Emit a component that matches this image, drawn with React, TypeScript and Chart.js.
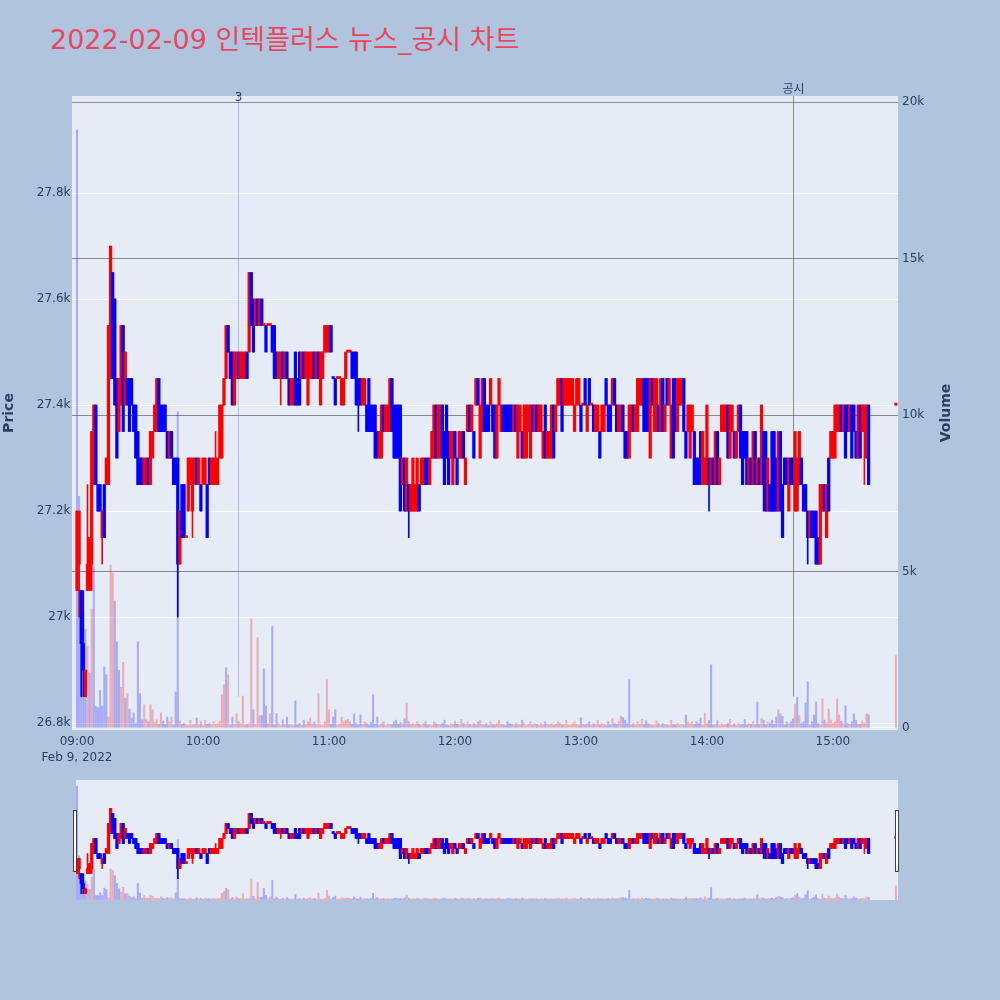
import { useEffect, useRef } from "react";
import Chart from "chart.js/auto";

// minutes after 09:00 (15:20-15:30 closing auction has no trades, last print at 15:30)
const tradingMinutes = [...Array(378).keys(), 390];

const opens = [
  27050, 27100, 27050, 26950, 26850, 27050, 27050, 27100, 27250, 27400,
  27250, 27250, 27150, 27250, 27250, 27250, 27450, 27650, 27600, 27450,
  27350, 27400, 27550, 27400, 27450, 27450, 27450, 27400, 27400, 27350,
  27300, 27300, 27250, 27250, 27300, 27250, 27300, 27350, 27350, 27450,
  27400, 27400, 27400, 27350, 27300, 27350, 27300, 27300, 27300, 27100,
  27250, 27250, 27150, 27200, 27250, 27200, 27250, 27300, 27250, 27250,
  27250, 27250, 27250, 27300, 27250, 27250, 27250, 27250, 27300, 27300,
  27400, 27450, 27550, 27500, 27500, 27400, 27450, 27500, 27450, 27450,
  27450, 27500, 27500, 27650, 27600, 27550, 27600, 27550, 27600, 27550,
  27550, 27550, 27550, 27550, 27550, 27500, 27450, 27450, 27500, 27450,
  27500, 27450, 27400, 27400, 27500, 27450, 27500, 27450, 27500, 27450,
  27400, 27450, 27450, 27500, 27450, 27500, 27400, 27450, 27500, 27500,
  27500, 27550, 27450, 27450, 27450, 27450, 27400, 27400, 27450, 27500,
  27500, 27500, 27500, 27500, 27450, 27450, 27400, 27400, 27400, 27450,
  27400, 27400, 27400, 27350, 27300, 27300, 27400, 27350, 27350, 27350,
  27450, 27400, 27400, 27400, 27400, 27250, 27300, 27200, 27250, 27200,
  27200, 27200, 27200, 27250, 27250, 27250, 27300, 27300, 27250, 27300,
  27300, 27400, 27300, 27300, 27400, 27350, 27400, 27350, 27300, 27250,
  27350, 27300, 27300, 27300, 27350, 27250, 27350, 27400, 27350, 27350,
  27400, 27450, 27300, 27350, 27450, 27400, 27400, 27400, 27400, 27400,
  27300, 27400, 27350, 27400, 27400, 27400, 27400, 27400, 27350, 27400,
  27300, 27350, 27350, 27300, 27300, 27350, 27300, 27400, 27350, 27400,
  27350, 27350, 27300, 27400, 27300, 27300, 27300, 27400, 27350, 27400,
  27400, 27450, 27400, 27400, 27400, 27400, 27400, 27350, 27400, 27400,
  27400, 27400, 27450, 27350, 27450, 27400, 27400, 27350, 27350, 27350,
  27350, 27350, 27450, 27400, 27400, 27400, 27450, 27400, 27350, 27350,
  27400, 27350, 27350, 27300, 27350, 27400, 27350, 27350, 27400, 27400,
  27450, 27450, 27450, 27300, 27450, 27350, 27350, 27400, 27350, 27450,
  27350, 27450, 27400, 27300, 27450, 27450, 27350, 27400, 27400, 27450,
  27350, 27350, 27300, 27350, 27350, 27300, 27300, 27350, 27250, 27250,
  27250, 27300, 27250, 27300, 27250, 27350, 27250, 27350, 27350, 27350,
  27400, 27300, 27350, 27350, 27300, 27350, 27400, 27350, 27350, 27350,
  27250, 27300, 27250, 27350, 27250, 27300, 27250, 27350, 27350, 27200,
  27250, 27350, 27350, 27300, 27200, 27350, 27250, 27300, 27300, 27200,
  27300, 27300, 27200, 27200, 27250, 27300, 27250, 27250, 27200, 27150,
  27200, 27200, 27200, 27150, 27100, 27200, 27250, 27150, 27300, 27300,
  27300, 27300, 27350, 27350, 27400, 27350, 27400, 27400, 27350, 27400,
  27400, 27350, 27300, 27400, 27350, 27350, 27300, 27400,
  27400,
];

const closes = [
  27200, 27200, 26950, 26900, 26900, 27100, 27150, 27350, 27400, 27250,
  27200, 27200, 27200, 27150, 27300, 27550, 27700, 27450, 27400, 27300,
  27450, 27550, 27350, 27500, 27400, 27350, 27400, 27350, 27300, 27250,
  27250, 27250, 27300, 27300, 27250, 27350, 27350, 27400, 27450, 27350,
  27350, 27350, 27350, 27300, 27350, 27300, 27250, 27250, 27100, 27200,
  27150, 27150, 27150, 27300, 27300, 27300, 27300, 27250, 27300, 27200,
  27300, 27300, 27150, 27250, 27300, 27300, 27300, 27300, 27400, 27400,
  27450, 27550, 27500, 27450, 27400, 27500, 27500, 27450, 27500, 27500,
  27500, 27450, 27650, 27550, 27500, 27600, 27550, 27600, 27550, 27550,
  27500, 27550, 27550, 27500, 27450, 27450, 27500, 27500, 27450, 27500,
  27450, 27400, 27450, 27450, 27400, 27400, 27400, 27500, 27450, 27500,
  27500, 27500, 27500, 27450, 27500, 27450, 27500, 27500, 27550, 27550,
  27550, 27500, 27450, 27400, 27450, 27450, 27450, 27450, 27500, 27500,
  27500, 27450, 27450, 27400, 27400, 27400, 27450, 27450, 27350, 27350,
  27350, 27350, 27300, 27300, 27350, 27400, 27350, 27400, 27400, 27450,
  27350, 27300, 27300, 27300, 27200, 27300, 27200, 27300, 27200, 27250,
  27300, 27250, 27300, 27200, 27300, 27300, 27250, 27250, 27300, 27350,
  27400, 27300, 27400, 27400, 27300, 27250, 27300, 27250, 27350, 27350,
  27300, 27250, 27350, 27350, 27300, 27300, 27400, 27350, 27400, 27300,
  27450, 27400, 27400, 27450, 27350, 27350, 27350, 27450, 27350, 27300,
  27400, 27450, 27400, 27350, 27350, 27350, 27350, 27350, 27400, 27350,
  27400, 27400, 27300, 27400, 27400, 27400, 27400, 27350, 27400, 27350,
  27400, 27400, 27350, 27300, 27350, 27350, 27400, 27300, 27400, 27450,
  27450, 27350, 27450, 27450, 27450, 27450, 27450, 27400, 27450, 27450,
  27350, 27400, 27400, 27400, 27400, 27400, 27350, 27400, 27400, 27300,
  27400, 27400, 27400, 27350, 27350, 27450, 27400, 27350, 27400, 27400,
  27350, 27300, 27300, 27400, 27400, 27350, 27400, 27450, 27450, 27450,
  27350, 27350, 27350, 27450, 27400, 27450, 27450, 27350, 27450, 27350,
  27400, 27400, 27450, 27400, 27300, 27350, 27450, 27450, 27450, 27350,
  27300, 27400, 27400, 27400, 27250, 27250, 27250, 27250, 27350, 27300,
  27400, 27250, 27300, 27250, 27350, 27250, 27300, 27400, 27400, 27400,
  27300, 27400, 27400, 27300, 27350, 27400, 27300, 27250, 27300, 27250,
  27300, 27250, 27350, 27250, 27300, 27250, 27400, 27250, 27200, 27300,
  27200, 27200, 27200, 27200, 27350, 27200, 27150, 27250, 27250, 27300,
  27250, 27250, 27350, 27300, 27350, 27250, 27200, 27200, 27150, 27200,
  27150, 27150, 27100, 27100, 27250, 27250, 27200, 27250, 27200, 27350,
  27350, 27400, 27400, 27400, 27350, 27400, 27300, 27350, 27400, 27300,
  27350, 27300, 27400, 27300, 27400, 27400, 27400, 27250,
  27400,
];

// [minute, high, low] where the wick reaches past the body
const wicks = [
  [1, 27200, 27000], [2, 27050, 26850], [3, 27050, 26850], [5, 27250, 27050],
  [7, 27350, 27050], [12, 27200, 27100], [48, 27300, 27000], [55, 27300, 27150],
  [66, 27350, 27250], [97, 27500, 27400], [134, 27450, 27350], [158, 27250, 27150],
  [301, 27300, 27200], [327, 27350, 27200], [348, 27200, 27100], [375, 27400, 27250],
];

const volumes = [
  19100, 7400, 2650, 3700, 3150, 2600, 1750, 3800, 5150, 700,
  650, 1200, 700, 1950, 1700, 350, 5200, 4950, 4050, 2750,
  1850, 1300, 2100, 950, 1100, 600, 300, 480, 150, 2750,
  1100, 260, 740, 260, 200, 740, 580, 200, 260, 120,
  480, 220, 120, 350, 200, 350, 100, 1150, 10100, 230,
  120, 150, 100, 80, 250, 100, 120, 320, 100, 200,
  80, 250, 120, 150, 100, 200, 120, 150, 220, 1060,
  1380, 1920, 1700, 100, 350, 120, 460, 200, 150, 1020,
  100, 120, 150, 3490, 580, 120, 2880, 400, 400, 1890,
  700, 150, 460, 3240, 100, 460, 150, 80, 260, 100,
  350, 100, 120, 80, 870, 100, 150, 80, 250, 100,
  200, 320, 120, 200, 100, 1090, 100, 80, 200, 1540,
  580, 120, 350, 580, 80, 120, 350, 200, 250, 280,
  200, 120, 450, 150, 100, 420, 120, 200, 150, 100,
  180, 1060, 120, 350, 100, 150, 200, 80, 150, 120,
  100, 200, 250, 120, 180, 150, 300, 800, 200, 120,
  150, 100, 200, 120, 80, 150, 200, 100, 120, 80,
  200, 150, 120, 100, 150, 250, 100, 80, 150, 120,
  200, 120, 100, 270, 150, 100, 200, 120, 80, 150,
  100, 200, 250, 120, 100, 150, 80, 200, 120, 100,
  150, 250, 120, 100, 80, 200, 150, 120, 100, 150,
  120, 100, 250, 150, 80, 120, 200, 100, 150, 120,
  80, 150, 100, 200, 120, 100, 150, 80, 120, 200,
  150, 100, 120, 250, 100, 80, 150, 200, 120, 100,
  330, 120, 100, 150, 200, 80, 150, 120, 250, 100,
  150, 120, 80, 200, 100, 300, 150, 120, 200, 380,
  330, 250, 150, 1540, 100, 150, 80, 200, 120, 280,
  100, 230, 150, 120, 80, 100, 230, 150, 100, 150,
  120, 100, 80, 250, 120, 100, 150, 100, 120, 80,
  420, 200, 150, 200, 120, 200, 150, 320, 100, 480,
  150, 240, 2020, 100, 120, 230, 80, 150, 100, 120,
  150, 270, 100, 150, 80, 150, 100, 120, 270, 100,
  150, 120, 200, 100, 830, 120, 300, 250, 100, 200,
  150, 250, 120, 350, 580, 450, 370, 100, 200, 150,
  200, 300, 770, 990, 400, 150, 200, 800, 1480, 100,
  200, 420, 830, 150, 100, 930, 250, 150, 610, 250,
  150, 200, 930, 420, 220, 150, 710, 150, 120, 200,
  450, 250, 120, 120, 220, 150, 450, 420,
  2310,
];

// volume bars whose colour differs from their candle
const volumeDownMinutes = [0, 1, 4, 6, 8, 12, 14, 20, 23, 71, 89, 263, 302, 324, 343];
const volumeUpMinutes = [17, 22, 24, 40, 45, 72, 83, 86, 115, 358];

const priceTicks = [26800, 27000, 27200, 27400, 27600, 27800];
const volumeTicks = [0, 5000, 10000, 15000, 20000];
const hourTicks = [0, 60, 120, 180, 240, 300, 360];
const hourLabels = ["09:00", "10:00", "11:00", "12:00", "13:00", "14:00", "15:00"];
const dateLabel = "Feb 9, 2022";

// news / disclosure markers (minutes after 09:00)
const markerMinutes = [76.7, 341];
const markerLabels = ["3", "공시"];

const chartTitle = "2022-02-09 인텍플러스 뉴스_공시 차트";
const priceAxisTitle = "Price";
const volumeAxisTitle = "Volume";

const UP = "#ff0000";
const DOWN = "#0000ff";
const UP_VOL = "rgba(255,0,0,0.27)";
const DOWN_VOL = "rgba(0,0,255,0.27)";
const PLOT_BG = "#E5ECF6";
const TEXT = "#2a3f5f";
const FONT = '"DejaVu Sans", "Noto Sans CJK KR", sans-serif';

const candles = tradingMinutes.map((m, i) => {
  const o = opens[i];
  const c = closes[i];
  const w = wicks.find((r) => r[0] === m);
  const prev = i > 0 ? closes[i - 1] : o;
  const up = c > o || (c === o && c >= prev);
  let volUp = up;
  if (volumeDownMinutes.includes(m)) volUp = false;
  if (volumeUpMinutes.includes(m)) volUp = true;
  return {
    x: m,
    o,
    c,
    h: Math.max(o, c, w ? w[1] : o),
    l: Math.min(o, c, w ? w[2] : o),
    up,
    volUp,
  };
});
const dayLow = Math.min(...candles.map((k) => k.l));

function makeDatasets() {
  return [
    {
      type: "bar",
      label: "body",
      data: candles.map((k) => ({ x: k.x, y: [k.o, k.c] })),
      yAxisID: "y",
      backgroundColor: candles.map((k) => (k.up ? UP : DOWN)),
      barThickness: 2.6,
      minBarLength: 2,
      grouped: false,
      order: 1,
    },
    {
      type: "bar",
      label: "wick",
      data: candles.map((k) => ({ x: k.x, y: [k.l, k.h] })),
      yAxisID: "y",
      backgroundColor: candles.map((k) => (k.up ? UP : DOWN)),
      barThickness: 1,
      grouped: false,
      order: 2,
    },
    {
      type: "bar",
      label: "volume",
      data: candles.map((k, i) => ({ x: k.x, y: volumes[i] })),
      yAxisID: "y1",
      backgroundColor: candles.map((k) => (k.volUp ? UP_VOL : DOWN_VOL)),
      barThickness: 1.4,
      grouped: false,
      order: 3,
    },
  ];
}

const plotBg = {
  id: "plotBg",
  beforeDraw(chart: any) {
    const { ctx, chartArea: a } = chart;
    ctx.save();
    ctx.fillStyle = PLOT_BG;
    ctx.fillRect(a.left, a.top, a.right - a.left, a.bottom - a.top);
    ctx.restore();
  },
};

const markers = {
  id: "markers",
  afterDatasetsDraw(chart: any) {
    const { ctx, chartArea: a, scales } = chart;
    const colors = ["rgba(99,110,250,0.4)", "rgba(60,90,60,0.6)"];
    const labelOffsets = [1.5, -6];
    ctx.save();
    markerMinutes.forEach((m, i) => {
      const x = Math.round(scales.x.getPixelForValue(m)) + 0.5;
      ctx.strokeStyle = colors[i];
      ctx.lineWidth = 1;
      ctx.beginPath();
      ctx.moveTo(x, a.top);
      ctx.lineTo(x, scales.y.getPixelForValue(dayLow));
      ctx.stroke();
      ctx.fillStyle = TEXT;
      ctx.font = `12px ${FONT}`;
      ctx.textAlign = "center";
      ctx.textBaseline = "middle";
      ctx.fillText(markerLabels[i], x, a.top + labelOffsets[i]);
    });
    ctx.restore();
  },
};

const axisTitles = {
  id: "axisTitles",
  afterDraw(chart: any) {
    const { ctx, chartArea: a } = chart;
    const cy = (a.top + a.bottom) / 2;
    ctx.save();
    ctx.fillStyle = TEXT;
    ctx.font = `bold 14px ${FONT}`;
    ctx.textAlign = "center";
    ctx.textBaseline = "middle";
    [
      [priceAxisTitle, 9.5],
      [volumeAxisTitle, 946.5],
    ].forEach(([text, x]) => {
      ctx.save();
      ctx.translate(x as number, cy);
      ctx.rotate(-Math.PI / 2);
      ctx.fillText(text as string, 0, 0);
      ctx.restore();
    });
    ctx.restore();
  },
};

const tickFont = { family: FONT, size: 12 };

export default function App() {
  const mainRef = useRef<HTMLCanvasElement | null>(null);
  const sliderRef = useRef<HTMLCanvasElement | null>(null);

  useEffect(() => {
    if (!mainRef.current || !sliderRef.current) return;

    const main = new Chart(mainRef.current, {
      type: "bar",
      data: { datasets: makeDatasets() as any },
      plugins: [plotBg, markers, axisTitles],
      options: {
        responsive: false,
        animation: false,
        events: [],
        layout: { padding: { top: 96, left: 0, right: 0, bottom: 0 } },
        plugins: {
          legend: { display: false },
          tooltip: { enabled: false },
        },
        scales: {
          x: {
            type: "linear",
            min: -2.38,
            max: 391,
            offset: false,
            grid: { display: false, drawTicks: false },
            border: { display: false },
            afterBuildTicks: (axis: any) => {
              axis.ticks = hourTicks.map((v) => ({ value: v }));
            },
            afterFit: (s: any) => {
              s.height = 50;
            },
            ticks: {
              padding: 4,
              maxRotation: 0,
              autoSkip: false,
              color: TEXT,
              font: { ...tickFont, lineHeight: 1.3 },
              callback: (v: any) => {
                const i = hourTicks.indexOf(v);
                return i === 0 ? [hourLabels[0], dateLabel] : hourLabels[i];
              },
            },
          },
          y: {
            position: "left",
            min: 26787,
            max: 27983,
            grid: { color: "#ffffff", lineWidth: 1, drawTicks: false },
            border: { display: false },
            afterBuildTicks: (axis: any) => {
              axis.ticks = priceTicks.map((v) => ({ value: v }));
            },
            afterFit: (s: any) => {
              s.width = 72;
            },
            ticks: {
              padding: 1.5,
              color: TEXT,
              font: tickFont,
              callback: (v: any) => `${v / 1000}k`,
            },
          },
          y1: {
            position: "right",
            min: -64,
            max: 20192,
            grid: {
              color: (c: any) => (c.tick && c.tick.value === 0 ? "#ffffff" : "#888888"),
              lineWidth: 1,
              drawTicks: false,
            },
            border: { display: false },
            afterBuildTicks: (axis: any) => {
              axis.ticks = volumeTicks.map((v) => ({ value: v }));
            },
            afterFit: (s: any) => {
              s.width = 102;
            },
            ticks: {
              padding: 4,
              color: TEXT,
              font: tickFont,
              callback: (v: any) => (v === 0 ? "0" : `${v / 1000}k`),
            },
          },
        },
      } as any,
    });

    // range slider preview
    const slider = new Chart(sliderRef.current, {
      type: "bar",
      data: { datasets: makeDatasets() as any },
      options: {
        responsive: false,
        animation: false,
        events: [],
        layout: { padding: 0 },
        plugins: {
          legend: { display: false },
          tooltip: { enabled: false },
        },
        scales: {
          x: { type: "linear", min: -0.5, max: 391, offset: false, display: false },
          y: { min: 26787, max: 27983, display: false },
          y1: { min: -64, max: 20192, display: false },
        },
      } as any,
    });

    return () => {
      main.destroy();
      slider.destroy();
    };
  }, []);

  const handle = {
    position: "absolute" as const,
    top: 810,
    width: 2,
    height: 60,
    background: "#ffffff",
    border: "1px solid #444444",
  };

  return (
    <div
      style={{
        position: "absolute",
        left: 0,
        top: 0,
        width: 1000,
        height: 1000,
        background: "#B0C4DE",
        overflow: "hidden",
      }}
    >
      <div
        style={{
          position: "absolute",
          left: 50,
          top: 22,
          fontFamily: FONT,
          fontSize: 27,
          lineHeight: "36px",
          color: "#E8485F",
          whiteSpace: "nowrap",
        }}
      >
        {chartTitle}
      </div>
      <canvas
        ref={mainRef}
        width={1000}
        height={780}
        style={{ position: "absolute", left: 0, top: 0, width: 1000, height: 780 }}
      />
      <canvas
        ref={sliderRef}
        width={822}
        height={120}
        style={{
          position: "absolute",
          left: 76,
          top: 780,
          width: 822,
          height: 120,
          background: PLOT_BG,
        }}
      />
      <div style={{ ...handle, left: 73 }} />
      <div style={{ ...handle, left: 895 }} />
    </div>
  );
}
